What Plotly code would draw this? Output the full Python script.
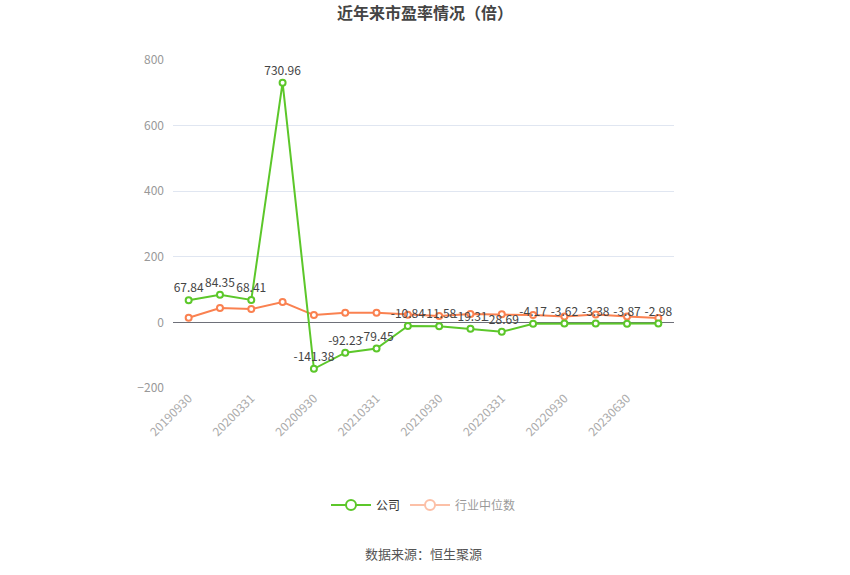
import plotly.graph_objects as go

categories = ["20190930", "20191231", "20200331", "20200630", "20200930", "20201231",
              "20210331", "20210630", "20210930", "20211231", "20220331", "20220630",
              "20220930", "20221231", "20230630", "20230930"]
company_pe = [67.84, 84.35, 68.41, 730.96, -141.38, -92.23, -79.45, -10.84, -11.58,
              -19.31, -28.69, -4.17, -3.62, -3.38, -3.87, -2.98]
industry_pe = [14.3, 43.7, 40.7, 62.0, 22.4, 29.5, 29.5, 23.4, 19.3, 25.4, 25.0, 22.4,
               18.3, 24.4, 18.3, 13.2]
tick_labels = categories[::2]
y_ticks = [-200, 0, 200, 400, 600, 800]

GREEN = "#5cc72a"
ORANGE = "#fa8150"
FONT = "Noto Sans CJK SC"

fig = go.Figure()

fig.add_trace(go.Scatter(
    x=categories, y=industry_pe, mode="lines+markers", name="行业中位数",
    line=dict(color=ORANGE, width=2),
    marker=dict(symbol="circle", size=6, color="white", line=dict(color=ORANGE, width=2)),
    showlegend=False, hoverinfo="skip",
))
fig.add_trace(go.Scatter(
    x=categories, y=company_pe, mode="lines+markers+text", name="公司",
    text=[f"{v:.2f}" for v in company_pe], textposition="top center",
    textfont=dict(size=12, color="#444", family=FONT),
    line=dict(color=GREEN, width=2),
    marker=dict(symbol="circle", size=6, color="white", line=dict(color=GREEN, width=2)),
    showlegend=False, cliponaxis=False,
))
# legend entries
fig.add_trace(go.Scatter(
    x=[None], y=[None], mode="lines+markers", name="公司",
    line=dict(color=GREEN, width=2),
    marker=dict(symbol="circle", size=10, color="white", line=dict(color=GREEN, width=2)),
))
fig.add_trace(go.Scatter(
    x=[None], y=[None], mode="lines+markers", name="行业中位数", visible="legendonly",
    line=dict(color=ORANGE, width=2),
    marker=dict(symbol="circle", size=10, color="white", line=dict(color=ORANGE, width=2)),
))

plot_h = 575 - 60 - 187

fig.update_layout(
    width=850, height=575,
    paper_bgcolor="white", plot_bgcolor="white",
    margin=dict(l=173, r=176, t=60, b=187, autoexpand=False),
    font=dict(family=FONT, color="#999"),
    title=dict(text="<b>近年来市盈率情况（倍）</b>", x=0.5, xanchor="center",
               y=1 - 13 / 575, yanchor="middle", automargin=False,
               font=dict(size=16, color="#444", family=FONT)),
    legend=dict(orientation="h", x=0.5, xanchor="center", y=(388 - 505) / plot_h,
                yanchor="middle",
                font=dict(size=12, color="#333", family=FONT), itemwidth=40),
    xaxis=dict(type="category", range=[-0.5, 15.5], tickmode="array",
               tickvals=tick_labels, ticktext=tick_labels, tickangle=-45,
               tickfont=dict(size=12, color="#aaa"), showgrid=False,
               showline=False, zeroline=False, automargin=False),
    yaxis=dict(range=[-200, 800], tickvals=y_ticks, showgrid=True,
               gridcolor="#e0e6f1", gridwidth=1, zeroline=True, zerolinecolor="#6e7079",
               zerolinewidth=1, tickfont=dict(size=12, color="#999"), ticks="",
               ticklabelstandoff=8, automargin=False),
    annotations=[dict(text="数据来源：恒生聚源", x=0.5, xref="paper",
                      y=(388 - 553) / plot_h, yref="paper", yanchor="middle",
                      showarrow=False, font=dict(size=13, color="#555", family=FONT))],
)

fig.write_html("out.html", config={"displayModeBar": False},
               post_script="document.body.style.margin='0';")
